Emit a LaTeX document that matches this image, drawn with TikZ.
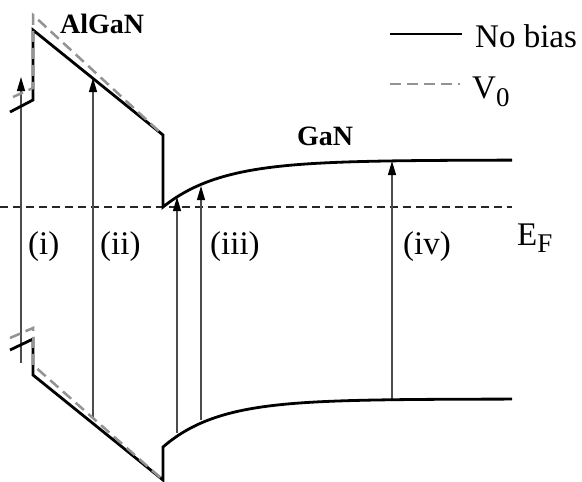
\documentclass[tikz,border=0pt]{standalone}
\usepackage{fontspec}
\setmainfont{Liberation Serif}
\usetikzlibrary{arrows.meta}
\begin{document}
\begin{tikzpicture}[x=1pt,y=-1pt,
  band/.style={line width=2.8pt,black,line join=miter},
  biasband/.style={line width=2.5pt,gray!85,dash pattern=on 11pt off 6pt},
  fermi/.style={line width=1.1pt,black!85,dash pattern=on 8pt off 5pt},
  trans/.style={line width=1.2pt,black!70,-{Triangle[length=14pt,width=8pt,color=black]}},
  lab/.style={anchor=base west,inner sep=0pt,font=\fontsize{33}{33}\selectfont},
  blab/.style={anchor=base west,inner sep=0pt,font=\fontsize{28}{28}\selectfont\bfseries}]
\useasboundingbox (0,0) rectangle (582,482);
% Fermi level
\draw[fermi] (0,207) -- (512,207);
% transitions
\draw[trans] (21,363) -- (21,77);
\draw[trans] (93,418) -- (93,78);
\draw[trans] (177,433) -- (177,197);
\draw[trans] (201,420) -- (201,186);
\draw[trans] (392,400) -- (392,161);
% no bias bands
\draw[band] (10,112) -- (33,100) -- (33,30) -- (163,135) -- (163,207)
  -- plot[domain=0:349,samples=90] ({163+\x},{160+47*exp(-\x/58)});
\draw[band] (10,350) -- (33,339) -- (33,375) -- (163,480) -- (163,447)
  -- plot[domain=0:349,samples=90] ({163+\x},{399+48*exp(-\x/55)});
% biased bands
\draw[biasband] (13,97) -- (33,88) -- (33,15) -- (163,135);
\draw[biasband] (10,338) -- (33,328) -- (33,365) -- (163,480);
% labels
\node[blab] (algan) at (60,33) {AlGaN};
\node[blab] (gan) at (297,145) {GaN};
\node[lab] (l1) at (28,254) {(i)};
\node[lab] (l2) at (100,254) {(ii)};
\node[lab] (l3) at (210,254) {(iii)};
\node[lab] (l4) at (403,254) {(iv)};
\node[lab] (ef) at (517,245) {E\raisebox{-7pt}{\fontsize{27}{27}\selectfont F}};
% legend
\coordinate (la) at (390,34);
\coordinate (lb) at (462,34);
\draw[band,line width=2.5pt] (la) -- (lb);
\node[lab] (nb) at (475,47) {No bias};
\coordinate (lc) at (390,84);
\coordinate (ld) at (460,84);
\draw[biasband] (lc) -- (ld);
\node[lab] (v0) at (472,98) {V\raisebox{-8pt}{\fontsize{27}{27}\selectfont 0}};
\end{tikzpicture}
\end{document}
